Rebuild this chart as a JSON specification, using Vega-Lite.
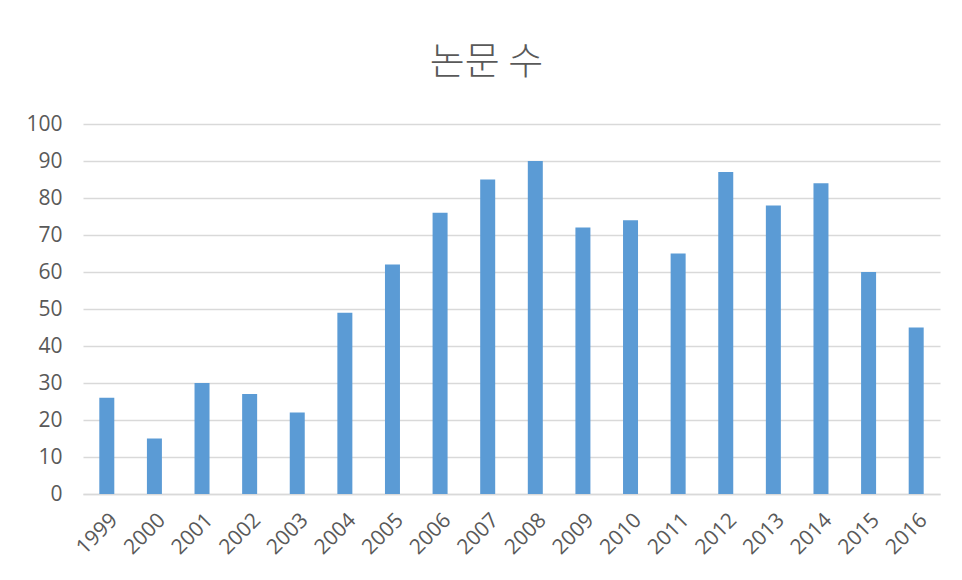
{
  "$schema": "https://vega.github.io/schema/vega-lite/v6.json",
  "width": 857,
  "height": 370,
  "autosize": {"type": "none"},
  "padding": {"left": 83, "top": 124, "right": 22, "bottom": 86},
  "background": "white",
  "title": {
    "text": "논문 수",
    "font": "Noto Sans CJK KR",
    "fontSize": 38,
    "fontWeight": 300,
    "color": "#595959",
    "anchor": "middle",
    "dx": -25,
    "offset": 31
  },
  "data": {
    "values": [
      {"year": "1999", "count": 26},
      {"year": "2000", "count": 15},
      {"year": "2001", "count": 30},
      {"year": "2002", "count": 27},
      {"year": "2003", "count": 22},
      {"year": "2004", "count": 49},
      {"year": "2005", "count": 62},
      {"year": "2006", "count": 76},
      {"year": "2007", "count": 85},
      {"year": "2008", "count": 90},
      {"year": "2009", "count": 72},
      {"year": "2010", "count": 74},
      {"year": "2011", "count": 65},
      {"year": "2012", "count": 87},
      {"year": "2013", "count": 78},
      {"year": "2014", "count": 84},
      {"year": "2015", "count": 60},
      {"year": "2016", "count": 45}
    ]
  },
  "mark": {"type": "bar", "color": "#5B9BD5"},
  "encoding": {
    "x": {
      "field": "year",
      "type": "ordinal",
      "scale": {"paddingInner": 0.685, "paddingOuter": 0.3425},
      "axis": {
        "title": null,
        "labelAngle": -45,
        "labelFont": "Open Sans",
        "labelFontSize": 21,
        "labelColor": "#595959",
        "labelPadding": 15,
        "ticks": false,
        "domain": true,
        "domainColor": "#D9D9D9",
        "domainWidth": 1.5
      }
    },
    "y": {
      "field": "count",
      "type": "quantitative",
      "scale": {"domain": [0, 100]},
      "axis": {
        "title": null,
        "values": [0, 10, 20, 30, 40, 50, 60, 70, 80, 90, 100],
        "labelFont": "Open Sans",
        "labelFontSize": 21,
        "labelColor": "#595959",
        "labelPadding": 21,
        "ticks": false,
        "domain": false,
        "grid": true,
        "gridColor": "#D9D9D9",
        "gridWidth": 1.5
      }
    }
  },
  "config": {
    "view": {"stroke": null}
  }
}
